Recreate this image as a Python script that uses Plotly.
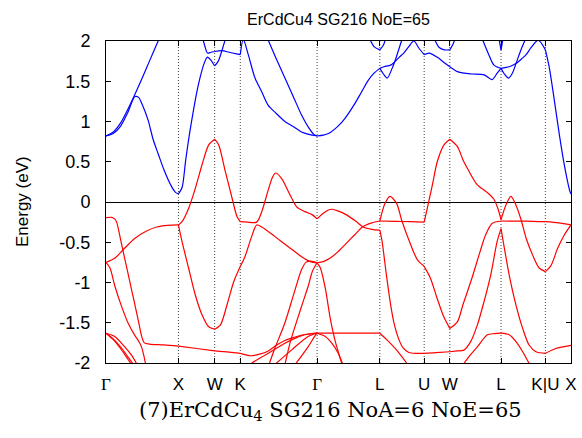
import plotly.graph_objects as go

# ---------------- path / ticks ----------------
kpoint_labels = ["Γ", "X", "W", "K", "Γ", "L", "U", "W", "L", "K|U", "X"]
kpoint_pos = [0.0, 1.0, 1.5, 1.8536, 2.9142, 3.7803, 4.3927, 4.7463, 5.4534, 6.0658, 6.4194]
ytick_vals = [-2, -1.5, -1, -0.5, 0, 0.5, 1, 1.5, 2]
ytick_text = ["-2", "-1.5", "-1", "-0.5", "0", "0.5", "1", "1.5", "2"]

title_text = "ErCdCu4 SG216 NoE=65"
caption_text = "(7)ErCdCu<sub>4</sub> SG216 NoA=6 NoE=65"
ylabel_text = "Energy (eV)"

# ---------------- conduction bands (blue) ----------------
c1_k = [0.0, 0.1, 0.2, 0.3, 0.4, 0.45, 0.5, 0.58, 0.65, 0.72, 0.8, 0.9, 0.96, 1.0, 1.05, 1.1, 1.15, 1.2, 1.25, 1.3, 1.35, 1.4, 1.45, 1.5, 1.55, 1.6, 1.65]
c1_e = [0.82, 0.85, 0.94, 1.11, 1.31, 1.30, 1.21, 1.02, 0.78, 0.60, 0.40, 0.20, 0.12, 0.10, 0.18, 0.52, 0.83, 1.10, 1.35, 1.55, 1.71, 1.80, 1.76, 1.69, 1.75, 1.88, 2.03]
c2_k = [0.0, 0.1, 0.2, 0.3, 0.4, 0.5, 0.6, 0.7, 0.8]
c2_e = [0.82, 0.87, 0.98, 1.15, 1.34, 1.54, 1.75, 1.96, 2.16]
c3_k = [1.33, 1.37, 1.40, 1.45, 1.5, 1.6, 1.7, 1.8, 1.8536, 1.895, 1.964, 2.057, 2.15, 2.24, 2.35, 2.47, 2.6, 2.7, 2.8, 2.9142]
c3_e = [2.05, 1.92, 1.85, 1.86, 1.87, 1.88, 1.86, 1.84, 1.83, 2.02, 1.83, 1.54, 1.37, 1.20, 1.10, 1.00, 0.93, 0.87, 0.84, 0.82]
c4_k = [2.15, 2.24, 2.35, 2.47, 2.6, 2.7, 2.8, 2.87, 2.9142]
c4_e = [2.20, 2.01, 1.78, 1.54, 1.28, 1.08, 0.92, 0.84, 0.82]
c5_k = [2.9142, 3.0, 3.07, 3.2, 3.3, 3.42, 3.53, 3.62, 3.7, 3.7803, 3.83, 3.883, 3.95, 4.0, 4.076, 4.12]
c5_e = [0.82, 0.83, 0.85, 0.94, 1.04, 1.20, 1.37, 1.51, 1.60, 1.66, 1.59, 1.54, 1.66, 1.78, 1.99, 2.10]
c6_k = [3.7803, 3.838, 3.93, 3.985, 4.05, 4.11, 4.18, 4.25, 4.32, 4.3927, 4.46, 4.57, 4.67, 4.7463, 4.85, 4.94, 5.05, 5.22, 5.33, 5.40, 5.4534]
c6_e = [1.66, 1.68, 1.70, 1.74, 1.80, 1.85, 1.93, 2.00, 1.91, 1.83, 1.85, 1.80, 1.73, 1.68, 1.62, 1.60, 1.59, 1.58, 1.52, 1.60, 1.66]
c7_k = [5.18, 5.21, 5.28, 5.356, 5.4534, 5.50, 5.558, 5.61, 5.66, 5.72, 5.775, 5.81]
c7_e = [2.06, 1.99, 1.84, 1.70, 1.66, 1.59, 1.54, 1.60, 1.72, 1.87, 1.99, 2.06]
c8_k = [5.4534, 5.51, 5.567, 5.66, 5.74, 5.80, 5.87, 5.967, 6.0658, 6.12, 6.19, 6.258, 6.327, 6.373, 6.405, 6.4194]
c8_e = [1.66, 1.67, 1.68, 1.72, 1.78, 1.83, 1.92, 2.01, 1.89, 1.67, 1.26, 0.84, 0.46, 0.25, 0.13, 0.10]
c9_k = [3.64, 3.70, 3.7803, 3.83, 3.86]
c9_e = [2.03, 1.93, 1.89, 1.95, 2.03]
c10_k = [4.53, 4.60, 4.67, 4.7463, 4.79, 4.82]
c10_e = [2.03, 1.92, 1.89, 1.89, 1.96, 2.03]
c11_k = [5.425, 5.4534, 5.48]
c11_e = [2.03, 1.89, 2.03]

# ---------------- valence bands (red) ----------------
v1_k = [0.0, 0.078, 0.12, 0.147, 0.2, 0.25, 0.3, 0.35, 0.4, 0.45, 0.49, 0.53, 0.6, 0.8, 1.0, 1.25, 1.5, 1.7, 1.8536, 2.0, 2.12, 2.24, 2.35, 2.47, 2.6, 2.7, 2.8, 2.9142, 3.2, 3.5, 3.7803, 3.875, 4.013, 4.15]
v1_e = [-0.195, -0.19, -0.21, -0.25, -0.46, -0.67, -0.87, -1.08, -1.28, -1.49, -1.66, -1.75, -1.765, -1.775, -1.79, -1.82, -1.85, -1.865, -1.88, -1.91, -1.89, -1.85, -1.78, -1.72, -1.68, -1.655, -1.64, -1.63, -1.63, -1.63, -1.63, -1.71, -1.84, -2.0]
v2_k = [0.0, 0.055, 0.124, 0.216, 0.308, 0.40, 0.446, 0.49, 0.52, 0.55]
v2_e = [-0.75, -0.82, -1.05, -1.30, -1.51, -1.66, -1.72, -1.80, -1.90, -2.03]
v3_k = [0.0, 0.12, 0.24, 0.4, 0.56, 0.7, 0.85, 1.0, 1.049, 1.14, 1.233, 1.325, 1.418, 1.5, 1.578, 1.67, 1.763, 1.8536, 1.918, 2.01, 2.08, 2.15, 2.333, 2.517, 2.70, 2.82, 2.9142, 3.0, 3.09, 3.2, 3.31, 3.43, 3.54, 3.67, 3.7803, 3.851, 3.92, 4.013, 4.08, 4.197, 4.30, 4.3927, 4.48, 4.565, 4.66, 4.7463, 4.85, 4.93, 5.05, 5.163, 5.24, 5.333, 5.4534, 5.7, 5.9, 6.0658, 6.25, 6.4194]
v3_e = [-0.75, -0.70, -0.59, -0.45, -0.36, -0.31, -0.29, -0.285, -0.49, -0.82, -1.155, -1.40, -1.55, -1.58, -1.53, -1.28, -0.99, -0.80, -0.68, -0.43, -0.285, -0.31, -0.43, -0.555, -0.68, -0.74, -0.755, -0.74, -0.70, -0.62, -0.52, -0.41, -0.31, -0.26, -0.236, -0.02, 0.07, -0.02, -0.22, -0.51, -0.72, -0.80, -0.95, -1.18, -1.42, -1.57, -1.49, -1.27, -0.95, -0.62, -0.41, -0.265, -0.236, -0.237, -0.24, -0.245, -0.26, -0.285]
v4_k = [1.0, 1.049, 1.14, 1.233, 1.325, 1.418, 1.5, 1.555, 1.647, 1.74, 1.808, 1.8536, 1.95, 2.08, 2.15, 2.24, 2.30, 2.342, 2.425, 2.54, 2.632, 2.747, 2.85, 2.9142, 3.0, 3.07, 3.12, 3.2, 3.32, 3.45, 3.55, 3.67, 3.7803, 3.81, 3.87, 3.93, 3.98, 4.04, 4.10, 4.18, 4.3, 4.3927, 4.55, 4.7463, 4.85, 4.94, 5.034, 5.126, 5.218, 5.31, 5.40, 5.4534, 5.50, 5.567, 5.66, 5.752, 5.843, 5.936, 6.0658, 6.21, 6.4194]
v4_e = [-0.285, -0.245, -0.08, 0.17, 0.46, 0.71, 0.78, 0.71, 0.38, 0.05, -0.18, -0.245, -0.25, -0.25, -0.12, 0.15, 0.31, 0.36, 0.29, 0.09, -0.06, -0.12, -0.16, -0.21, -0.14, -0.10, -0.09, -0.11, -0.16, -0.24, -0.31, -0.34, -0.35, -0.48, -0.90, -1.28, -1.52, -1.70, -1.81, -1.87, -1.88, -1.88, -1.87, -1.86, -1.85, -1.84, -1.735, -1.53, -1.24, -0.91, -0.49, -0.33, -0.575, -0.91, -1.28, -1.57, -1.78, -1.86, -1.88, -1.82, -1.78]
v5_k = [3.7803, 4.0, 4.2, 4.3927, 4.435, 4.505, 4.573, 4.666, 4.7463, 4.85, 4.93, 5.0, 5.12, 5.26, 5.35, 5.41, 5.4534, 5.52, 5.59, 5.66, 5.73, 5.80, 5.89, 5.98, 6.0658, 6.143, 6.235, 6.327, 6.4194]
v5_e = [-0.236, -0.24, -0.245, -0.25, -0.08, 0.21, 0.50, 0.71, 0.78, 0.69, 0.52, 0.40, 0.22, 0.12, 0.04, -0.08, -0.22, -0.04, 0.07, -0.04, -0.22, -0.45, -0.66, -0.82, -0.865, -0.79, -0.575, -0.41, -0.285]
v6_k = [0.0, 0.12, 0.25, 0.35, 0.43]
v6_e = [-1.63, -1.67, -1.79, -1.90, -2.02]
v7_k = [0.0, 0.10, 0.2, 0.3, 0.38]
v7_e = [-1.63, -1.70, -1.80, -1.92, -2.02]
v8_k = [0.0, 0.10, 0.2, 0.3, 0.36]
v8_e = [-1.63, -1.71, -1.82, -1.95, -2.03]
v9_k = [2.25, 2.33, 2.47, 2.6, 2.70, 2.76, 2.83, 2.9142]
v9_e = [-2.02, -1.82, -1.50, -1.12, -0.84, -0.75, -0.735, -0.755]
v10_k = [2.47, 2.55, 2.655, 2.72, 2.79, 2.85, 2.9142]
v10_e = [-2.02, -1.72, -1.42, -1.24, -1.05, -0.86, -0.755]
v11_k = [2.01, 2.24, 2.47, 2.70, 2.80, 2.9142]
v11_e = [-2.0, -1.88, -1.755, -1.66, -1.64, -1.63]
v12_k = [2.33, 2.56, 2.79, 2.9142]
v12_e = [-2.02, -1.84, -1.67, -1.63]
v13_k = [2.61, 2.79, 2.88, 2.9142]
v13_e = [-2.02, -1.80, -1.67, -1.63]
v14_k = [2.9142, 2.96, 3.027, 3.096, 3.166, 3.26]
v14_e = [-0.755, -0.82, -1.07, -1.445, -1.735, -2.02]
v15_k = [2.9142, 3.027, 3.12, 3.20, 3.27]
v15_e = [-1.63, -1.67, -1.755, -1.87, -2.02]
v16_k = [4.93, 5.03, 5.126, 5.264, 5.36, 5.4534, 5.567, 5.66, 5.752, 5.85]
v16_e = [-2.02, -1.90, -1.80, -1.65, -1.635, -1.63, -1.65, -1.735, -1.86, -2.02]

conduction = [(c1_k, c1_e), (c2_k, c2_e), (c3_k, c3_e), (c4_k, c4_e), (c5_k, c5_e),
              (c6_k, c6_e), (c7_k, c7_e), (c8_k, c8_e), (c9_k, c9_e), (c10_k, c10_e), (c11_k, c11_e)]
valence = [(v1_k, v1_e), (v2_k, v2_e), (v3_k, v3_e), (v4_k, v4_e), (v5_k, v5_e), (v6_k, v6_e),
           (v7_k, v7_e), (v8_k, v8_e), (v9_k, v9_e), (v10_k, v10_e), (v11_k, v11_e), (v12_k, v12_e),
           (v13_k, v13_e), (v14_k, v14_e), (v15_k, v15_e), (v16_k, v16_e)]

BLUE = "#0000ff"
RED = "#ff0000"
interior = kpoint_pos[1:-1]


def split_at_kpoints(ks, es):
    """Split a band into pieces at high-symmetry points (kinks allowed there)."""
    pieces, cur_k, cur_e = [], [], []
    for i, (k, e) in enumerate(zip(ks, es)):
        cur_k.append(k)
        cur_e.append(e)
        if 0 < i < len(ks) - 1 and any(abs(k - p) < 1e-6 for p in interior):
            pieces.append((cur_k, cur_e))
            cur_k, cur_e = [k], [e]
    pieces.append((cur_k, cur_e))
    return pieces


fig = go.Figure()
for bands, color in ((valence, RED), (conduction, BLUE)):
    for ks, es in bands:
        assert len(ks) == len(es)
        for pk, pe in split_at_kpoints(ks, es):
            fig.add_trace(go.Scatter(
                x=pk, y=pe, mode="lines",
                line=dict(color=color, width=1.2, shape="spline", smoothing=0.8),
                hoverinfo="skip", showlegend=False))

# dotted vertical lines at interior high-symmetry points
for p in interior:
    fig.add_shape(type="line", xref="x", yref="paper", x0=p, x1=p, y0=0, y1=1,
                  line=dict(color="#444444", width=1, dash="1px,2px"), layer="below")

tick_text = []
for lab in kpoint_labels:
    if lab == "Γ":
        tick_text.append('<span style="font-family:Liberation Serif">Γ</span>')
    else:
        tick_text.append(lab)

SANS = "Liberation Sans, Arial, sans-serif"
fig.update_layout(
    width=582, height=438,
    margin=dict(l=106, r=11, t=41, b=75, autoexpand=False),
    paper_bgcolor="white", plot_bgcolor="white",
    font=dict(family=SANS, size=17, color="black"),
    title=dict(text=title_text, x=0.5, xref="paper", xanchor="center",
               y=1 - 19 / 438, yref="container", yanchor="middle",
               font=dict(family=SANS, size=16, color="black")),
    showlegend=False,
)
fig.update_xaxes(
    range=[kpoint_pos[0], kpoint_pos[-1]],
    tickvals=kpoint_pos, ticktext=tick_text,
    ticks="inside", ticklen=5, tickwidth=1, tickcolor="black",
    showline=True, linecolor="black", linewidth=1, mirror="allticks",
    showgrid=False, zeroline=False, automargin=False,
    tickfont=dict(family=SANS, size=17, color="black"),
    ticklabelstandoff=6,
)
fig.update_yaxes(
    range=[-2, 2],
    tickvals=ytick_vals, ticktext=ytick_text,
    ticks="inside", ticklen=5, tickwidth=1, tickcolor="black",
    showline=True, linecolor="black", linewidth=1, mirror="allticks",
    showgrid=False, zeroline=True, zerolinecolor="black", zerolinewidth=1,
    automargin=False,
    tickfont=dict(family=SANS, size=18, color="black"),
    ticklabelstandoff=11,
)

fig.add_annotation(text=ylabel_text, xref="paper", yref="paper",
                   x=(22 - 106) / 465, y=0.5, xanchor="center", yanchor="middle",
                   textangle=-90, showarrow=False,
                   font=dict(family=SANS, size=17, color="black"))
fig.add_annotation(text=caption_text, xref="paper", yref="paper",
                   x=(330 - 106) / 465, y=(363 - 411) / 322, xanchor="center", yanchor="middle",
                   showarrow=False,
                   font=dict(family="DejaVu Serif, serif", size=21, color="black"))

fig.write_html("out.html", config={"displayModeBar": False, "staticPlot": True},
               post_script="document.body.style.margin='0';document.body.style.padding='0';")
